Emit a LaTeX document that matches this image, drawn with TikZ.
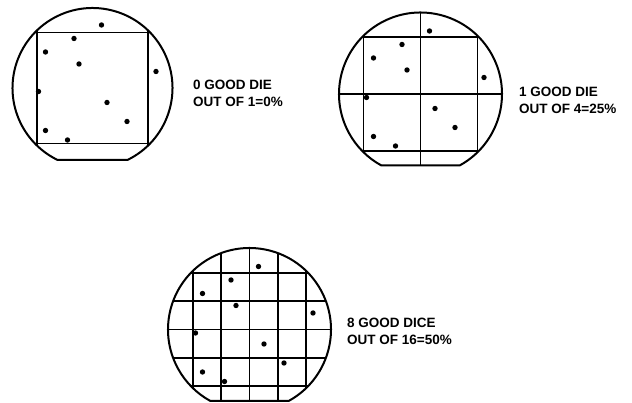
\documentclass[tikz,border=0pt]{standalone}
\usepackage{fontspec}
\setsansfont{Liberation Sans}
\tikzset{
  rim/.style={line width=2pt, line join=round},
  cut/.style={line width=1.9pt},
  speck/.style={fill=black},
  tally/.style={font=\fontsize{13.5}{17}\selectfont\sffamily\bfseries, align=left, anchor=west, inner sep=0pt},
}
% same defect map on every wafer, offsets from the wafer centre
\newcommand{\defects}{9/63, -18.5/49.5, -47/36, -13.5/24, 63.5/16.5, -54/-3.5, 14.5/-14.5, 34.5/-33.5, -47/-42.5, -25/-52}
% #1,#2 centre, #3 radius, #4 depth of the flat, #5 cut positions
\newcommand{\wafer}[5]{%
  \begin{scope}[shift={(#1,#2)}]
    \pgfmathsetmacro\flatang{acos(#4/#3)}
    \begin{scope}
      \clip (-90+\flatang:#3pt) arc[start angle=-90+\flatang, end angle=270-\flatang, radius=#3pt] -- cycle;
      \foreach \cutpos in {#5} {
        \draw[cut] (\cutpos,-95) -- (\cutpos,95);
        \draw[cut] (-95,\cutpos) -- (95,\cutpos);
      }
    \end{scope}
    \draw[rim] (-90+\flatang:#3pt) arc[start angle=-90+\flatang, end angle=270-\flatang, radius=#3pt] -- cycle;
    \foreach \dx/\dy in \defects \fill[speck] (\dx,\dy) circle[radius=2.7pt];
  \end{scope}}

\begin{document}
\begin{tikzpicture}[x=1pt,y=1pt]
  \clip (0,0) rectangle (632,403);
  \wafer{92.5}{315}{80}{72}{-55.5,55.5}
  \wafer{420.5}{309}{81.5}{71.5}{-57,0,57}
  \wafer{249.5}{73.5}{81.5}{71.5}{-56.8,-28.4,0,28.4,56.8}
  \node[tally] (one) at (193,309.5) {0 GOOD DIE\\OUT OF 1=0\%};
  \node[tally] (four) at (519,303) {1 GOOD DIE\\OUT OF 4=25\%};
  \node[tally] (sixteen) at (347,72) {8 GOOD DICE\\OUT OF 16=50\%};
\end{tikzpicture}
\end{document}
